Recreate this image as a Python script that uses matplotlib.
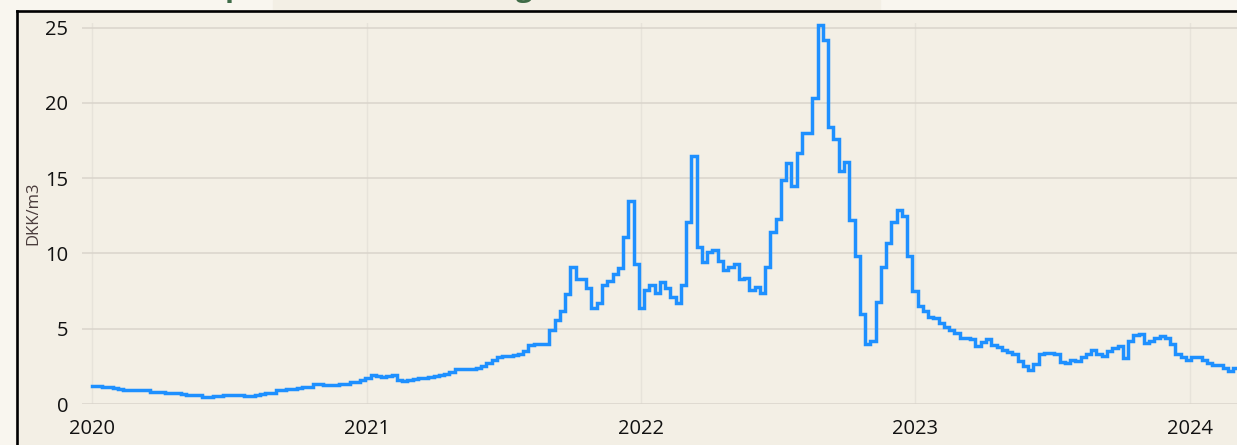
#!/usr/bin/env python
# -*- coding: utf-8 -*-

import numpy as np
import pandas as pd
import matplotlib
matplotlib.use('Agg')
import matplotlib.pyplot as plt
import matplotlib.dates as mdates
from matplotlib.patches import Rectangle
from matplotlib.lines import Line2D

# weekly gas price, DKK/m3, from 2020-01-01
price = [
    1.2, 1.18, 1.15, 1.1, 1.05, 1.0,
    0.95, 0.93, 0.95, 0.95, 0.9,
    0.82, 0.8, 0.78, 0.72, 0.7,
    0.7, 0.68, 0.62, 0.6, 0.6,
    0.45, 0.45, 0.55, 0.55, 0.58,
    0.62, 0.62, 0.6, 0.55, 0.55,
    0.6, 0.65, 0.7, 0.75, 0.95,
    0.95, 1.0, 1.0, 1.05, 1.1,
    1.15, 1.3, 1.3, 1.25, 1.25,
    1.25, 1.3, 1.35, 1.45, 1.45,
    1.6, 1.7, 1.9, 1.85, 1.8,
    1.85, 1.9, 1.6, 1.55, 1.6,
    1.65, 1.7, 1.75, 1.8, 1.85,
    1.9, 2.0, 2.1, 2.3, 2.3,
    2.3, 2.35, 2.4, 2.5, 2.7,
    2.9, 3.1, 3.2, 3.2, 3.25,
    3.3, 3.5, 3.9, 4.0, 4.0,
    4.0, 4.9, 5.6, 6.2, 7.3,
    9.1, 8.3, 8.3, 7.7, 6.4,
    6.7, 7.9, 8.2, 8.6, 9.0,
    11.1, 13.5, 9.3, 6.4, 7.6,
    7.9, 7.4, 8.1, 7.7, 7.1,
    6.7, 7.9, 12.1, 16.5, 10.4,
    9.4, 10.1, 10.2, 9.5, 8.9,
    9.1, 9.3, 8.3, 8.4, 7.6,
    7.8, 7.4, 9.1, 11.4, 12.3,
    14.9, 16.0, 14.5, 16.7, 18.0,
    18.0, 20.3, 25.2, 24.2, 18.4,
    17.6, 15.5, 16.1, 12.2, 9.8,
    6.0, 4.0, 4.2, 6.8, 9.1,
    10.7, 12.1, 12.9, 12.5, 9.8,
    7.5, 6.5, 6.2, 5.8, 5.7,
    5.4, 5.1, 4.9, 4.7, 4.4,
    4.4, 4.3, 3.85, 4.1, 4.3,
    3.95, 3.8, 3.6, 3.45, 3.35,
    2.85, 2.5, 2.25, 2.65, 3.3,
    3.4, 3.4, 3.35, 2.8, 2.7,
    2.9, 2.85, 3.1, 3.35, 3.6,
    3.35, 3.2, 3.55, 3.7, 3.85,
    3.05, 4.2, 4.6, 4.65, 4.05,
    4.2, 4.35, 4.5, 4.35, 4.0,
    3.35, 3.1, 2.95, 3.1, 3.15,
    2.9, 2.7, 2.6, 2.6, 2.4,
    2.2, 2.4, 2.65,
]
start = "2020-01-01"
yticks = [0, 5, 10, 15, 20, 25]
ylabel = "DKK/m3"
title = "Gasprisen, TTF, udvikling siden 2020"

PANEL = "#f3efe5"
OUTER = "#f9f6ef"


def main():
    dates = pd.date_range(start, periods=len(price), freq="7D")

    fig = plt.figure(figsize=(12.37, 4.45), dpi=100, facecolor=OUTER)

    # panel background and black frame (screenshot container)
    fig.patches.append(Rectangle((16 / 1237, 0), 1, 1 - 11 / 445,
                                 transform=fig.transFigure, color=PANEL, zorder=-10))
    fig.patches.append(Rectangle((273 / 1237, 1 - 10 / 445), 607 / 1237, 10 / 445,
                                 transform=fig.transFigure, color=PANEL, zorder=-10))
    fig.lines.append(Line2D([16.5 / 1237, 16.5 / 1237], [0, 1 - 10.5 / 445],
                            transform=fig.transFigure, color="black", lw=1.9))
    fig.lines.append(Line2D([16.5 / 1237, 1], [1 - 10.5 / 445, 1 - 10.5 / 445],
                            transform=fig.transFigure, color="black", lw=1.9))

    # title, mostly cut off above the picture
    fig.text(172 / 1237, 1.009, title, color="#3e6b47", fontsize=21,
             fontweight="bold", family="Open Sans", va="baseline", ha="left")

    ax = fig.add_axes([82 / 1237, 41 / 445, 1 - 82 / 1237, 381 / 445])
    ax.set_facecolor(PANEL)
    ax.plot(dates, price, drawstyle="steps-post", color="#1e90ff", lw=2.5,
            solid_joinstyle="miter", clip_on=False, zorder=3)

    ax.set_xlim(pd.Timestamp("2019-12-19"), pd.Timestamp("2024-03-04"))
    ax.set_ylim(0, 25.3)
    ax.set_yticks(yticks)
    ax.xaxis.set_major_locator(mdates.YearLocator())
    ax.xaxis.set_major_formatter(mdates.DateFormatter("%Y"))

    ax.grid(True, axis="y", color="#d9d4cb", lw=1.1)
    ax.grid(True, axis="x", color="#e7e3da", lw=1.0)
    ax.set_axisbelow(True)
    for s in ax.spines.values():
        s.set_visible(False)
    ax.tick_params(axis="both", length=0, labelsize=14.5, labelcolor="#111111")
    ax.tick_params(axis="y", pad=10)
    ax.tick_params(axis="x", pad=11)
    for lab in ax.get_xticklabels() + ax.get_yticklabels():
        lab.set_family("Open Sans")

    fig.text(33 / 1237, 1 - 213 / 445, ylabel, rotation=90, ha="center",
             va="center", fontsize=12, color="#4a3c3c", family="Open Sans")

    fig.savefig("out.png", dpi=100, facecolor=OUTER)


if __name__ == "__main__":
    main()
